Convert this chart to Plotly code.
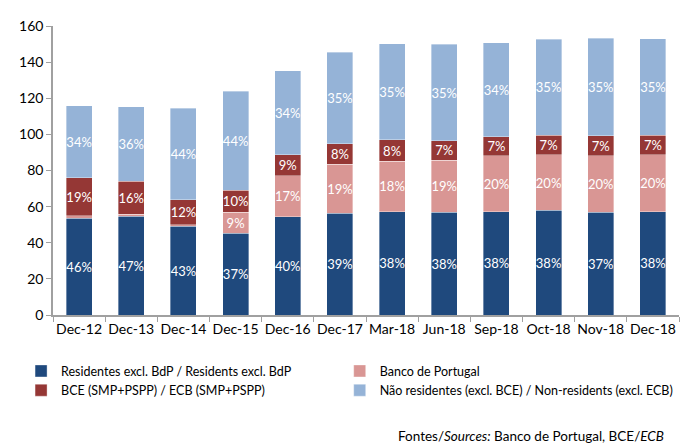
from plotly import graph_objects as go

categories = ["Dec-12", "Dec-13", "Dec-14", "Dec-15", "Dec-16", "Dec-17",
              "Mar-18", "Jun-18", "Sep-18", "Oct-18", "Nov-18", "Dec-18"]

residentes = [53.5, 54.6, 49.0, 45.2, 54.4, 56.2, 57.3, 56.8, 57.3, 57.9, 57.0, 57.3]
banco_portugal = [1.5, 1.3, 1.0, 11.6, 22.7, 27.4, 27.7, 29.0, 31.0, 30.8, 31.3, 31.4]
bce = [21.0, 18.2, 13.8, 12.2, 11.6, 11.2, 12.0, 10.7, 10.5, 10.7, 10.9, 10.7]
nao_residentes = [39.8, 41.2, 50.7, 55.0, 46.5, 50.7, 53.1, 53.3, 51.9, 53.3, 53.9, 53.5]

residentes_pct = ["46%", "47%", "43%", "37%", "40%", "39%", "38%", "38%", "38%", "38%", "37%", "38%"]
banco_portugal_pct = ["", "", "", "9%", "17%", "19%", "18%", "19%", "20%", "20%", "20%", "20%"]
bce_pct = ["19%", "16%", "12%", "10%", "9%", "8%", "8%", "7%", "7%", "7%", "7%", "7%"]
nao_residentes_pct = ["34%", "36%", "44%", "44%", "34%", "35%", "35%", "35%", "34%", "35%", "35%", "35%"]

# (name, values, labels, colour, legend column)
series = [
    ("Residentes excl. BdP / Residents excl. BdP", residentes, residentes_pct, "#1F497D", "legend"),
    ("Banco de Portugal", banco_portugal, banco_portugal_pct, "#D99694", "legend2"),
    ("BCE (SMP+PSPP) / ECB (SMP+PSPP)", bce, bce_pct, "#953735", "legend"),
    ("Não residentes (excl. BCE) / Non-residents (excl. ECB)", nao_residentes, nao_residentes_pct, "#95B3D7", "legend2"),
]

FONT = "Lato, 'Open Sans', sans-serif"

fig = go.Figure()
for name, values, labels, color, leg in series:
    fig.add_trace(
        go.Bar(
            x=categories,
            y=values,
            name=name,
            legend=leg,
            text=labels,
            textposition="inside",
            insidetextanchor="middle",
            textangle=0,
            textfont={"color": "white", "size": 13, "family": FONT},
            marker={"color": color, "line": {"color": "rgba(255,255,255,0.6)", "width": 0.6}},
            constraintext="none",
            hoverinfo="skip",
        )
    )

legend_style = {
    "orientation": "v",
    "traceorder": "normal",
    "xanchor": "left",
    "y": -0.143,
    "yanchor": "top",
    "font": {"size": 12.5, "family": FONT},
    "itemwidth": 30,
    "tracegroupgap": 0,
}

# page body has an 8px margin, so the figure is 8px smaller than the window
fig.update_layout(
    barmode="stack",
    bargap=0.5,
    width=689,
    height=436,
    paper_bgcolor="white",
    plot_bgcolor="white",
    margin={"t": 18, "r": 18, "l": 45, "b": 129, "autoexpand": False},
    font={"family": FONT, "size": 14, "color": "black"},
    uniformtext={"minsize": 13, "mode": "show"},
    showlegend=True,
    legend={**legend_style, "x": -0.051},
    legend2={**legend_style, "x": 0.458},
    xaxis={
        "showline": True,
        "linecolor": "#A0A0A0",
        "linewidth": 1.5,
        "ticks": "outside",
        "tickson": "boundaries",
        "ticklen": 5,
        "tickcolor": "#A0A0A0",
        "tickangle": 0,
        "tickfont": {"size": 14},
        "showgrid": False,
    },
    yaxis={
        "range": [0, 160],
        "dtick": 20,
        "showline": True,
        "linecolor": "#A0A0A0",
        "linewidth": 1.5,
        "ticks": "outside",
        "ticklen": 5,
        "tickcolor": "#A0A0A0",
        "tickfont": {"size": 14},
        "showgrid": False,
        "zeroline": False,
    },
)

fig.add_annotation(
    x=0.548,
    y=-0.42,
    xref="paper",
    yref="paper",
    text="Fontes/<i>Sources:</i> Banco de Portugal, BCE/<i>ECB</i>",
    showarrow=False,
    xanchor="left",
    yanchor="middle",
    font={"size": 13.5},
)

fig.write_html("out.html")
